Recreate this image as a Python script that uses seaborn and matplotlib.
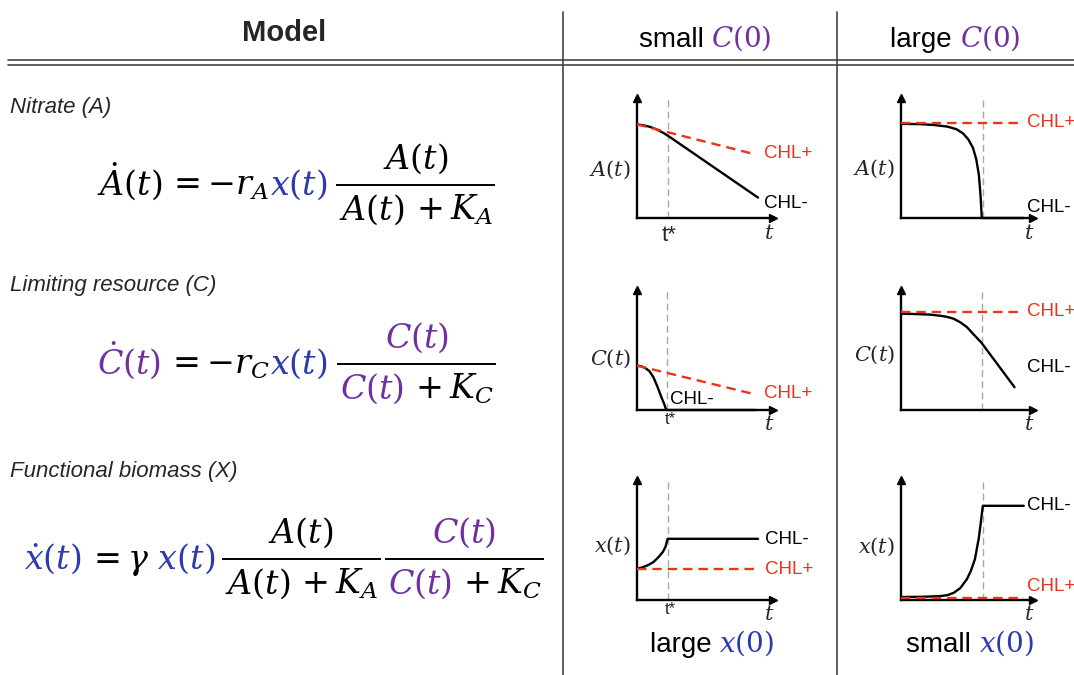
import matplotlib
matplotlib.use("Agg")
import matplotlib.pyplot as plt
import seaborn as sns

sns.set_style("white")
plt.rcParams["font.family"] = ["Liberation Sans", "DejaVu Sans"]
plt.rcParams["mathtext.fontset"] = "dejavuserif"

BLUE = "#2B3BAF"
PURPLE = "#7030A0"
RED = "#E8341C"
RULE = "#444444"
TSTAR = "#A8A8A8"

# ---- text content -------------------------------------------------------
model_title = "Model"
column_words = ["small ", "large "]
column_math = r"$C(0)$"
bottom_words = ["large ", "small "]
bottom_math = r"$x(0)$"
row_labels = ["Nitrate (A)", "Limiting resource (C)", "Functional biomass (X)"]
panel_ylabels = [r"$A(t)$", r"$C(t)$", r"$x(t)$"]
chl_plus, chl_minus = "CHL+", "CHL-"

# ---- sketched trajectories (time and level both on a 0-10 scale) ---------
# nitrate, small C(0)
A_small_tstar = 2.3
A_small_plus_t = [0.0, 8.7]
A_small_plus = [7.8, 5.3]
A_small_minus_t = [0.0, 0.5, 1.0, 1.5, 2.0, 2.5, 8.9]
A_small_minus = [7.8, 7.72, 7.58, 7.35, 7.05, 6.68, 1.7]

# nitrate, large C(0)
A_large_tstar = 6.2
A_large_plus_t = [0.0, 9.25]
A_large_plus = [7.95, 7.95]
A_large_minus_t = [0.0, 1.5, 2.5, 3.5, 4.2, 4.7, 5.1, 5.45, 5.7, 5.9, 6.03, 6.12, 9.3]
A_large_minus = [7.85, 7.82, 7.75, 7.62, 7.4, 7.05, 6.55, 5.85, 4.9, 3.6, 1.8, 0.0, 0.0]

# limiting resource, small C(0)
C_small_tstar = 2.2
C_small_plus_t = [0.0, 8.7]
C_small_plus = [3.7, 1.3]
C_small_minus_t = [0.0, 0.3, 0.6, 0.9, 1.2, 1.5, 1.8, 2.0, 2.15, 8.7]
C_small_minus = [3.7, 3.65, 3.5, 3.25, 2.75, 1.95, 1.05, 0.5, 0.0, 0.0]

# limiting resource, large C(0)
C_large_tstar = 6.1
C_large_plus_t = [0.0, 9.1]
C_large_plus = [8.2, 8.2]
C_large_minus_t = [0.0, 1.0, 2.2, 3.0, 3.5, 4.0, 4.5, 5.0, 5.5, 6.1, 8.6]
C_large_minus = [8.02, 8.0, 7.95, 7.85, 7.76, 7.6, 7.3, 6.9, 6.3, 5.6, 1.9]

# functional biomass, small C(0) / large x(0)
X_small_tstar = 2.25
X_small_plus_t = [0.0, 8.8]
X_small_plus = [2.6, 2.6]
X_small_minus_t = [0.0, 0.4, 0.8, 1.2, 1.6, 1.9, 2.1, 2.25, 8.9]
X_small_minus = [2.6, 2.72, 2.9, 3.15, 3.6, 4.0, 4.45, 5.1, 5.1]

# functional biomass, large C(0) / small x(0)
X_large_tstar = 6.2
X_large_plus_t = [0.0, 9.3]
X_large_plus = [0.17, 0.17]
X_large_minus_t = [0.0, 1.0, 2.0, 3.0, 3.5, 4.0, 4.5, 5.0, 5.3, 5.6, 5.9, 6.05, 6.2, 9.3]
X_large_minus = [0.25, 0.26, 0.28, 0.33, 0.4, 0.6, 1.0, 1.75, 2.45, 3.4, 5.2, 6.5, 7.85, 7.85]

# ---- figure ---------------------------------------------------------------
W, H = 1074, 675
fig = plt.figure(figsize=(W / 100, H / 100), dpi=100)
base = fig.add_axes([0, 0, 1, 1])
base.set_xlim(0, W)
base.set_ylim(H, 0)
base.axis("off")
renderer = fig.canvas.get_renderer()

EQ_SIZE = 24


def row(pieces, x, y, ha="left", size=EQ_SIZE, **kw):
    """Lay out differently coloured text pieces side by side on one baseline."""
    items = []
    for s, c in pieces:
        t = base.text(0, y, s, color=c, fontsize=size, va="baseline", ha="left", **kw)
        items.append((t, t.get_window_extent(renderer).width))
    total = sum(w for _, w in items)
    cur = x - total / 2 if ha == "center" else x
    start = cur
    for t, w in items:
        t.set_x(cur)
        cur += w
    return start, cur


def fraction(num, den, x0, ybar, size=EQ_SIZE):
    d0, d1 = row(den, x0 + 3, ybar + 35, size=size)
    x1 = d1 + 2
    base.plot([x0, x1], [ybar, ybar], color="black", lw=1.4, solid_capstyle="butt")
    row(num, (x0 + x1) / 2, ybar - 16, ha="center", size=size)
    return x1


def equation(lhs, fracs, x, ybar, gap=9):
    _, cur = row(lhs, x, ybar + 10)
    for num, den in fracs:
        cur = fraction(num, den, cur + gap, ybar)
        gap = 4


# header and rules
base.text(284, 33, model_title, fontsize=21, fontweight="bold", ha="center", va="center")
for xc, word in zip([705, 955], column_words):
    row([(word, "black"), (column_math, PURPLE)], xc, 47, ha="center", size=20)
for xc, word in zip([712, 970], bottom_words):
    row([(word, "black"), (bottom_math, BLUE)], xc, 652, ha="center", size=20)

for xv in (563, 837):
    base.plot([xv, xv], [12, H], color=RULE, lw=1.2)
for yh in (60, 65):
    base.plot([8, W], [yh, yh], color=RULE, lw=1.2)

for y, lab in zip([107, 286, 472], row_labels):
    base.text(10, y, lab, fontsize=16, fontstyle="italic", va="center", ha="left")

# model equations
den_A = [(r"$A(t)$", "black"), (r"$\,+K_A$", "black")]
den_C = [(r"$C(t)$", PURPLE), (r"$\,+K_C$", "black")]
equation([(r"$\dot{A}(t)$", "black"), (r"$\,={-r_A}$", "black"), (r"$x(t)$", BLUE)],
         [([(r"$A(t)$", "black")], den_A)], 97, 185)
equation([(r"$\dot{C}(t)$", PURPLE), (r"$\,={-r_C}$", "black"), (r"$x(t)$", BLUE)],
         [([(r"$C(t)$", PURPLE)], den_C)], 97, 364)
equation([(r"$\dot{x}(t)$", BLUE), (r"$\,=\gamma$", "black"), (r"$\;x(t)$", BLUE)],
         [([(r"$A(t)$", "black")], den_A), ([(r"$C(t)$", PURPLE)], den_C)], 24, 559, gap=6)

# ---- sketch panels --------------------------------------------------------
panels = [
    dict(r=0, c=0, ts=A_small_tstar, plus=(A_small_plus_t, A_small_plus),
         minus=(A_small_minus_t, A_small_minus), lp=(9.35, 5.4), lm=(9.35, 1.25), ly=4.0, big_ts=True),
    dict(r=0, c=1, ts=A_large_tstar, plus=(A_large_plus_t, A_large_plus),
         minus=(A_large_minus_t, A_large_minus), lp=(9.55, 7.95), lm=(9.55, 0.9), ly=4.1, big_ts=None),
    dict(r=1, c=0, ts=C_small_tstar, plus=(C_small_plus_t, C_small_plus),
         minus=(C_small_minus_t, C_small_minus), lp=(9.35, 1.4), lm=(2.45, 0.85), ly=4.3, big_ts=False),
    dict(r=1, c=1, ts=C_large_tstar, plus=(C_large_plus_t, C_large_plus),
         minus=(C_large_minus_t, C_large_minus), lp=(9.55, 8.2), lm=(9.55, 3.55), ly=4.6, big_ts=None),
    dict(r=2, c=0, ts=X_small_tstar, plus=(X_small_plus_t, X_small_plus),
         minus=(X_small_minus_t, X_small_minus), lp=(9.4, 2.5), lm=(9.4, 5.0), ly=4.5, big_ts=False),
    dict(r=2, c=1, ts=X_large_tstar, plus=(X_large_plus_t, X_large_plus),
         minus=(X_large_minus_t, X_large_minus), lp=(9.55, 1.1), lm=(9.55, 7.85), ly=4.4, big_ts=None),
]

col_x = [637, 901]
col_w = [136, 132]
row_y = [218, 410, 600]
row_h = 120

for p in panels:
    x0, w = col_x[p["c"]], col_w[p["c"]]
    y0 = row_y[p["r"]]
    ax = fig.add_axes([x0 / W, (H - y0) / H, w / W, row_h / H])
    ax.set_facecolor("none")
    ax.set_xlim(0, 10)
    ax.set_ylim(0, 10)
    ax.set_xticks([])
    ax.set_yticks([])
    for side in ("top", "right"):
        ax.spines[side].set_visible(False)
    for side in ("left", "bottom"):
        ax.spines[side].set_color("black")
        ax.spines[side].set_linewidth(1.7)
    ax.plot(1, 0, ">", color="black", ms=6, transform=ax.transAxes, clip_on=False)
    ax.plot(0, 1, "^", color="black", ms=6, transform=ax.transAxes, clip_on=False)

    ax.plot([p["ts"], p["ts"]], [0, 10], color=TSTAR, lw=1.0, ls=(0, (5, 3)), zorder=1)

    sns.lineplot(x=p["plus"][0], y=p["plus"][1], ax=ax, color=RED, lw=1.7,
                 linestyle=(0, (4, 2.5)), estimator=None, sort=False, zorder=3, clip_on=False)
    sns.lineplot(x=p["minus"][0], y=p["minus"][1], ax=ax, color="black", lw=1.7,
                 estimator=None, sort=False, zorder=2, clip_on=False)
    ax.set_xlabel("")
    ax.set_ylabel("")

    ax.text(p["lp"][0], p["lp"][1], chl_plus, color=RED, fontsize=13.5, va="center", ha="left")
    ax.text(p["lm"][0], p["lm"][1], chl_minus, color="black", fontsize=13.5, va="center", ha="left")

    ax.annotate(panel_ylabels[p["r"]], xy=(0, p["ly"]), xytext=(-6, 0),
                textcoords="offset pixels", ha="right", va="center", fontsize=15)
    ax.annotate(r"$t$", xy=(9.7, 0), xytext=(0, -15), textcoords="offset pixels",
                ha="center", va="center", fontsize=15)
    if p["big_ts"] is True:
        ax.annotate("t*", xy=(p["ts"], 0), xytext=(1, -17), textcoords="offset pixels",
                    ha="center", va="center", fontsize=16)
    elif p["big_ts"] is False:
        ax.annotate("t*", xy=(p["ts"], 0), xytext=(3, -10), textcoords="offset pixels",
                    ha="center", va="center", fontsize=12)

fig.savefig("out.png", dpi=100)
